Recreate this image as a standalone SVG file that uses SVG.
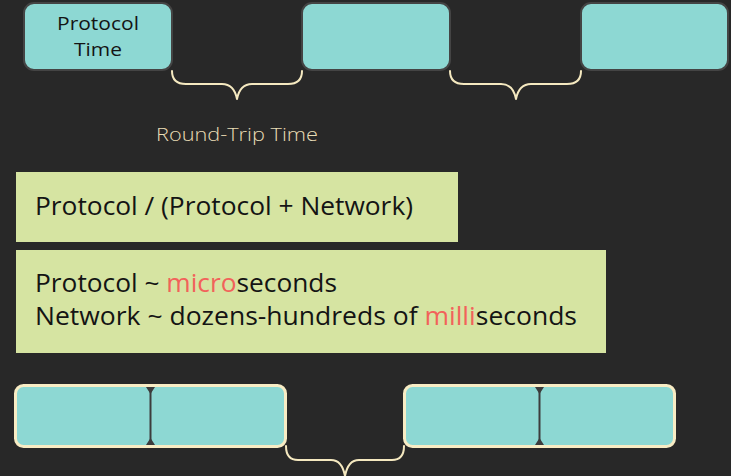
<svg xmlns="http://www.w3.org/2000/svg" width="731" height="476" viewBox="0 0 731 476">
  <style>
    .bg { fill: #282828; }
    .msg { fill: #8dd8d3; stroke: #444444; stroke-width: 2; }
    .brace { fill: none; stroke: #f5e9c0; stroke-width: 2; stroke-linecap: round; stroke-linejoin: round; }
    .label { font-family: "Open Sans", Lato, "Liberation Sans", sans-serif; font-weight: 400; fill: #141414; }
    .note { fill: #d6e4a2; }
    .hi { fill: #f2625a; }
    .batch { fill: #8dd8d3; stroke: #f8ecc4; stroke-width: 3; }
    .split { stroke: #3c3c3c; stroke-width: 2; }
    .cap { fill: #3c3c3c; }
  </style>
  <rect class="bg" x="0" y="0" width="731" height="476"/>

  <!-- message boxes -->
  <g id="msg1">
    <rect class="msg" x="24" y="3" width="148" height="67" rx="10"/>
    <text class="label" x="98" y="30" font-size="19" text-anchor="middle" textLength="82" lengthAdjust="spacingAndGlyphs">Protocol</text>
    <text class="label" x="98" y="56" font-size="19" text-anchor="middle" textLength="48" lengthAdjust="spacingAndGlyphs">Time</text>
  </g>
  <g id="msg2">
    <rect class="msg" x="302" y="3" width="148" height="67" rx="10"/>
  </g>
  <g id="msg3">
    <rect class="msg" x="581" y="3" width="147" height="67" rx="10"/>
  </g>

  <!-- gaps between messages -->
  <g id="connectors">
    <path class="brace" d="M172 71 Q172 84 186 84 L222 84 Q234 84 237 99 Q240 84 252 84 L288 84 Q302 84 302 71"/>
    <path class="brace" d="M450 71 Q450 84 464 84 L501 84 Q513 84 516 99 Q519 84 531 84 L567 84 Q581 84 581 71"/>
    <path class="brace" d="M286 446 Q286 460 298 460 L331 460 Q342 460 345 476 Q348 460 359 460 L392 460 Q404 460 404 446"/>
  </g>

  <g id="rtt-label">
    <text x="237" y="141" font-size="18" text-anchor="middle" font-family="'Open Sans', Lato, 'Liberation Sans', sans-serif" font-weight="300" fill="#e8dcb5" textLength="162" lengthAdjust="spacingAndGlyphs">Round-Trip Time</text>
  </g>

  <!-- formula notes -->
  <g id="ratio">
    <rect class="note" x="16" y="172" width="442" height="70"/>
    <text class="label" x="35" y="215" font-size="25" textLength="378" lengthAdjust="spacingAndGlyphs">Protocol / (Protocol + Network)</text>
  </g>
  <g id="scales">
    <rect class="note" x="16" y="250" width="590" height="103"/>
    <text class="label" x="35" y="292" font-size="25" textLength="302" lengthAdjust="spacingAndGlyphs">Protocol ~ <tspan class="hi">micro</tspan>seconds</text>
    <text class="label" x="35" y="325" font-size="25" textLength="542" lengthAdjust="spacingAndGlyphs">Network ~ dozens-hundreds of <tspan class="hi">milli</tspan>seconds</text>
  </g>

  <!-- batched messages -->
  <g id="batch1">
    <rect class="batch" x="15.5" y="385.5" width="270" height="61" rx="8"/>
    <line class="split" x1="150.5" y1="388" x2="150.5" y2="444"/>
    <path class="cap" d="M146 387 L155 387 L150.5 394 Z M146 445 L155 445 L150.5 438 Z"/>
  </g>
  <g id="batch2">
    <rect class="batch" x="404.5" y="385.5" width="270" height="61" rx="8"/>
    <line class="split" x1="539.5" y1="388" x2="539.5" y2="444"/>
    <path class="cap" d="M535 387 L544 387 L539.5 394 Z M535 445 L544 445 L539.5 438 Z"/>
  </g>
</svg>
